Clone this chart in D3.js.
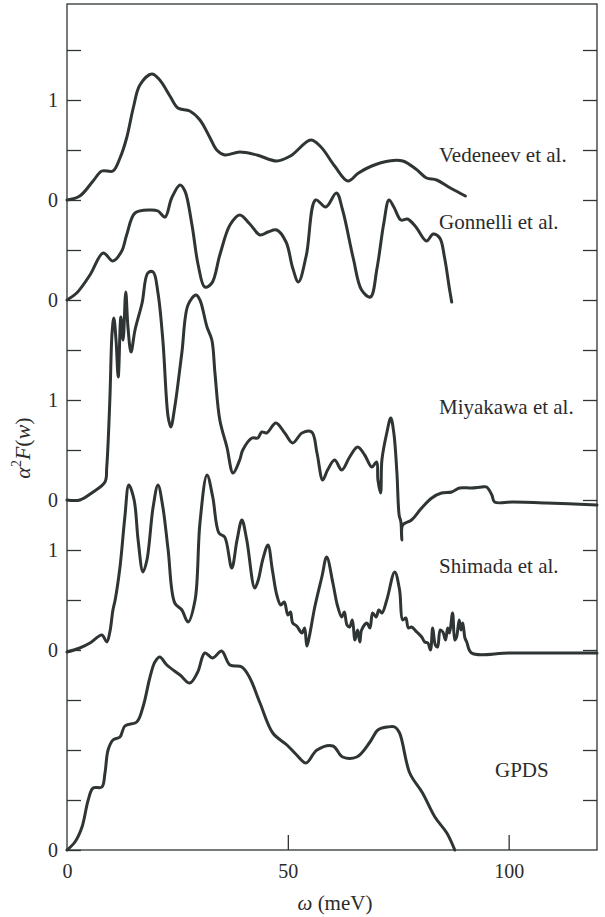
<!DOCTYPE html>
<html>
<head>
<meta charset="utf-8">
<script src="https://cdn.jsdelivr.net/npm/d3@7"></script>
<style>
  body { margin: 0; background: #fff; }
  svg text { font-family: "Liberation Serif", "Times New Roman", serif; fill: #2b2b2b; }
</style>
</head>
<body>
<svg width="605" height="917"></svg>
<script>
// each series: [omega (meV), alpha^2 F]
const vedeneev = [[0,0],[2.9,0.04],[5.9,0.19],[7.9,0.29],[10.4,0.29],[12,0.42],[13.5,0.62],[15,0.92],[16.5,1.15],[19.2,1.26],[21,1.2],[23.3,1.04],[25.1,0.92],[27.8,0.89],[30.1,0.8],[32.4,0.62],[33.9,0.5],[35.7,0.45],[39.1,0.48],[43,0.45],[47.5,0.39],[50.6,0.44],[55.2,0.6],[57.5,0.53],[60.6,0.34],[63.6,0.19],[66,0.27],[69,0.34],[72.9,0.39],[76,0.39],[79,0.31],[81.4,0.22],[83.7,0.2],[86.8,0.12],[90.2,0.04]];
const gonnelli = [[0,0],[2.2,0.07],[5.2,0.25],[8.2,0.47],[10.4,0.39],[12.4,0.49],[13.5,0.65],[15.4,0.87],[18.8,0.9],[20.6,0.89],[22.2,0.83],[23.7,1.02],[25.6,1.15],[26.7,1.09],[28.3,0.75],[29.7,0.35],[31.2,0.13],[32.8,0.17],[34.6,0.45],[36.9,0.75],[39.1,0.85],[41.4,0.76],[43.7,0.65],[45.5,0.68],[47.5,0.7],[49.6,0.58],[51.1,0.32],[52.4,0.18],[54.2,0.45],[56.3,1.0],[58.6,0.93],[61,1.07],[62.4,0.9],[64.8,0.42],[66.7,0.1],[68.7,0.03],[70.2,0.32],[71.7,0.76],[72.9,1.0],[74,0.93],[75.6,0.8],[77.1,0.81],[79,0.73],[81.4,0.59],[82.9,0.66],[84.4,0.62],[85.5,0.42],[86.6,0.11],[87.1,-0.02]];
const miyakawa = [[0,0],[2.9,0],[5.9,0.08],[8.6,0.18],[9,0.33],[9.7,1.0],[10.2,1.67],[10.6,1.82],[11.1,1.6],[11.6,1.23],[12.2,1.83],[12.7,1.6],[13.3,2.08],[13.8,1.73],[14.5,1.48],[15.4,1.7],[17,1.97],[18.3,2.27],[19.5,2.28],[20.6,2.07],[21.7,1.6],[22.9,0.83],[23.5,0.73],[24.4,0.93],[26,1.47],[27.4,1.95],[29.2,2.05],[30.1,2.0],[31.7,1.73],[32.8,1.6],[33.5,1.27],[34.6,0.8],[36.2,0.53],[37.6,0.27],[39.1,0.4],[39.8,0.5],[41.9,0.62],[43.2,0.62],[44.1,0.68],[45.2,0.67],[47.3,0.77],[49.3,0.67],[51.1,0.57],[53.2,0.67],[55.4,0.68],[56.6,0.47],[57.9,0.2],[59,0.3],[60.6,0.4],[62.2,0.3],[64,0.43],[65.8,0.53],[67.4,0.45],[69,0.33],[70.1,0.38],[70.4,0.2],[71,0.07],[71.3,0.4],[72.4,0.67],[73.3,0.82],[74,0.67],[74.7,0.27],[75.2,-0.15],[75.6,-0.22],[75.8,-0.4],[76,-0.25],[78,-0.2],[80.3,-0.08],[82.6,0.02],[84.8,0.07],[87.1,0.08],[88.9,0.12],[91.6,0.12],[93.9,0.13],[95,0.13],[96.2,0.05],[96.8,-0.02],[100.9,-0.02],[108.6,-0.03],[120,-0.05]];
const shimada = [[0,-0.02],[2.9,0.02],[5.2,0.07],[7.9,0.15],[9,0.08],[9.7,0.18],[10.4,0.4],[10.9,0.5],[12,0.83],[13.1,1.33],[14,1.65],[15.2,1.5],[16.1,1.1],[17.2,0.78],[18.1,0.9],[19.5,1.43],[20.6,1.65],[21.7,1.43],[22.9,1.0],[24.4,0.47],[26,0.4],[27.4,0.28],[29,0.5],[30.1,1.27],[31.7,1.75],[33,1.53],[34.4,1.17],[35.7,1.13],[37.3,0.82],[38.5,1.1],[39.6,1.3],[40.7,1.1],[42.5,0.62],[43.3,0.7],[44.3,0.9],[45.5,1.05],[46.5,0.8],[47.5,0.55],[48.4,0.45],[49.2,0.48],[50,0.35],[50.6,0.38],[51.1,0.27],[52,0.24],[53.2,0.17],[53.8,0.22],[54.3,0.04],[54.8,0.12],[56.1,0.43],[57.7,0.73],[58.8,0.93],[60.2,0.67],[61.2,0.45],[62.2,0.33],[62.8,0.38],[63.4,0.25],[64,0.23],[64.6,0.3],[65.2,0.1],[65.8,0.2],[66.3,0.08],[66.7,0.2],[67.9,0.27],[68.6,0.22],[69.2,0.37],[70,0.33],[70.6,0.4],[71.3,0.37],[72.4,0.5],[74.2,0.78],[75.3,0.6],[76,0.3],[76.7,0.32],[77.3,0.22],[78,0.23],[79.2,0.18],[80.3,0.13],[81,0.08],[81.7,0.07],[82.3,0.0],[82.8,0.22],[83.4,0.05],[83.9,0.03],[84.5,0.2],[85.1,0.18],[85.7,0.1],[86.2,0.22],[86.6,0.17],[87.3,0.37],[87.8,0.1],[88.2,0.13],[88.8,0.3],[89.2,0.2],[89.6,0.27],[90.1,0.12],[90.5,0.08],[91.6,-0.03],[100,-0.03],[110,-0.03],[120,-0.03]];
const gpds = [[0,0],[1.8,0.08],[3.4,0.23],[4.8,0.5],[5.9,0.62],[7.9,0.63],[8.6,0.77],[9.3,1.0],[10.4,1.1],[12,1.13],[13.1,1.24],[15.8,1.28],[17.2,1.43],[18.8,1.73],[19.9,1.88],[21,1.93],[22.6,1.85],[25.6,1.75],[27.8,1.67],[29.6,1.78],[31.2,1.97],[33,1.92],[35,1.99],[36.9,1.85],[39.6,1.83],[41.4,1.72],[43.7,1.47],[46.6,1.17],[49.8,1.05],[52,0.95],[54.1,0.87],[56.6,1.0],[60.2,1.04],[62.4,0.93],[65.6,0.93],[68.6,1.08],[70.4,1.2],[72.6,1.23],[74.2,1.23],[75.3,1.17],[77.6,0.77],[80.5,0.57],[83.3,0.33],[86,0.17],[87.8,0]];

const seriesNames = ["Vedeneev et al.", "Gonnelli et al.", "Miyakawa et al.", "Shimada et al.", "GPDS"];
const seriesData = [vedeneev, gonnelli, miyakawa, shimada, gpds];
const seriesOffsets = [6.5, 5.5, 3.5, 2, 0];

const xTicks = [0, 50, 100];
const yTickValues = d3.range(0, 8.01, 0.5);
const yTickLabels = new Map([[7.5, "1"], [6.5, "0"], [5.5, "0"], [4.5, "1"], [3.5, "0"], [3, "1"], [2, "0"], [0, "0"]]);

let svg = d3.select("svg");
let mLeft = 67, mRight = 597, mTop = 4, mBottom = 850;

let x = d3.scaleLinear().domain([0, 120]).range([mLeft, mRight]);
let y = d3.scaleLinear().domain([0, 8.46]).range([mBottom, mTop]);

const ink = "#2f3434";

// curves
seriesData.forEach((pts, i) => {
  let line = d3.line()
    .x(d => x(d[0]))
    .y(d => y(d[1] + seriesOffsets[i]))
    .curve(d3.curveCatmullRom.alpha(0.5));
  svg.append("path")
    .datum(pts)
    .attr("d", line)
    .attr("fill", "none")
    .attr("stroke", ink)
    .attr("stroke-width", 3)
    .attr("stroke-linejoin", "round")
    .attr("stroke-linecap", "round");
});

// axes, ticks pointing inward
let yAxis = d3.axisLeft(y)
  .tickValues(yTickValues)
  .tickSizeInner(-14).tickSizeOuter(0).tickPadding(9)
  .tickFormat(d => yTickLabels.get(d) || "");
let gy = svg.append("g").attr("transform", `translate(${mLeft},0)`).call(yAxis);

let gr = svg.append("g").attr("transform", `translate(${mRight},0)`)
  .call(d3.axisRight(y).tickValues(yTickValues.slice(1)).tickSizeInner(-14).tickSizeOuter(0).tickFormat(""));

let gx = svg.append("g").attr("transform", `translate(0,${mBottom})`)
  .call(d3.axisBottom(x).tickValues(xTicks).tickSizeInner(-15).tickSizeOuter(0).tickPadding(14).tickFormat(d3.format("d")));

[gy, gr, gx].forEach(g => {
  g.select(".domain").remove();
  g.selectAll(".tick line").attr("stroke", ink).attr("stroke-width", 1.3);
  g.selectAll("text").attr("font-size", 20).attr("font-family", "Liberation Serif").attr("fill", "#2b2b2b");
});
gx.selectAll(".tick").filter(d => d === 0).select("line").remove();

svg.append("rect")
  .attr("x", mLeft).attr("y", mTop)
  .attr("width", mRight - mLeft).attr("height", mBottom - mTop)
  .attr("fill", "none").attr("stroke", ink).attr("stroke-width", 1.3);

// series labels
const labelPos = [[439, 162], [439, 229], [439, 414], [439, 573], [495, 777]];
seriesNames.forEach((name, i) => {
  svg.append("text")
    .attr("x", labelPos[i][0]).attr("y", labelPos[i][1])
    .attr("font-size", 21)
    .text(name);
});

// axis titles
let xt = svg.append("text")
  .attr("x", 335).attr("y", 910)
  .attr("text-anchor", "middle").attr("font-size", 21);
xt.append("tspan").attr("font-style", "italic").text("ω");
xt.append("tspan").text(" (meV)");

let yt = svg.append("text")
  .attr("transform", "translate(30,448) rotate(-90)")
  .attr("text-anchor", "middle").attr("font-size", 22);
yt.append("tspan").attr("font-style", "italic").text("α");
yt.append("tspan").attr("font-size", 14).attr("dy", -9).text("2");
yt.append("tspan").attr("font-style", "italic").attr("dy", 9).text("F");
yt.append("tspan").text("(");
yt.append("tspan").attr("font-style", "italic").text("w");
yt.append("tspan").text(")");
</script>
</body>
</html>
